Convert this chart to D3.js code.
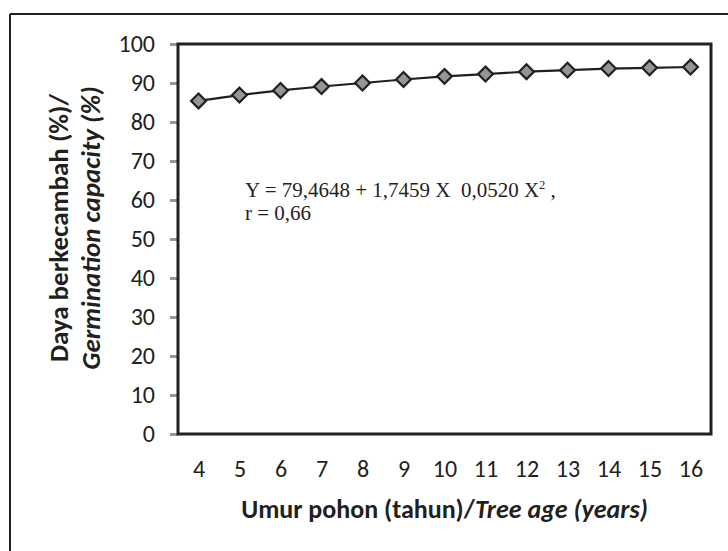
<!DOCTYPE html>
<html>
<head>
<meta charset="utf-8">
<script src="https://cdn.jsdelivr.net/npm/d3@7"></script>
<style>
  body { margin: 0; background: #fff; }
  svg { display: block; }
</style>
</head>
<body>
<svg id="chart" width="728" height="551"></svg>
<script>
// tree age (years) and germination capacity (%)
var years = [4, 5, 6, 7, 8, 9, 10, 11, 12, 13, 14, 15, 16];
var germination = [85.4, 86.9, 88.1, 89.1, 90.0, 90.9, 91.7, 92.3, 92.9, 93.3, 93.7, 93.9, 94.1];
var yTicks = [0, 10, 20, 30, 40, 50, 60, 70, 80, 90, 100];

var svg = d3.select("#chart");
var sansFont = "Carlito, Lato, 'Open Sans', sans-serif";
var serifFont = "'Liberation Serif', 'Times New Roman', serif";
var ink = "#231f20";

var margin = { top: 44, right: 17, bottom: 117, left: 178 };
var innerWidth = 728 - margin.left - margin.right;
var innerHeight = 551 - margin.top - margin.bottom;

// outer frame (only its top and left edges fall inside the picture)
svg.append("line")
   .attr("x1", 10).attr("y1", 14)
   .attr("x2", 728).attr("y2", 14)
   .attr("stroke", ink)
   .attr("stroke-width", 2);
svg.append("line")
   .attr("x1", 10).attr("y1", 14)
   .attr("x2", 10).attr("y2", 551)
   .attr("stroke", ink)
   .attr("stroke-width", 2);

var g = svg.append("g")
           .attr("transform", "translate(" + margin.left + "," + margin.top + ")");

var xScale = d3.scalePoint()
               .domain(years)
               .range([0, innerWidth])
               .padding(0.5);

var yScale = d3.scaleLinear()
               .domain([0, 100])
               .range([innerHeight, 0]);

// Y-axis: grey tick marks outside the box
var yAxis = g.append("g")
             .attr("class", "y-axis")
             .call(d3.axisLeft(yScale).tickValues(yTicks).tickSize(8).tickPadding(15));
yAxis.select(".domain").remove();
yAxis.selectAll(".tick line")
     .attr("stroke", "#939598")
     .attr("stroke-width", 3);
yAxis.selectAll(".tick text")
     .style("font", "24px " + sansFont)
     .attr("fill", ink);

// X-axis: labels only
var xAxis = g.append("g")
             .attr("class", "x-axis")
             .attr("transform", "translate(0," + innerHeight + ")")
             .call(d3.axisBottom(xScale).tickSize(0).tickPadding(26));
xAxis.select(".domain").remove();
xAxis.selectAll(".tick text")
     .style("font", "24px " + sansFont)
     .attr("fill", ink);

// plot box
g.append("rect")
 .attr("width", innerWidth)
 .attr("height", innerHeight)
 .attr("fill", "none")
 .attr("stroke", ink)
 .attr("stroke-width", 3);

// line
g.append("path")
 .datum(germination)
 .attr("fill", "none")
 .attr("stroke", ink)
 .attr("stroke-width", 2.2)
 .attr("d", d3.line()
              .x(function(d, i) { return xScale(years[i]); })
              .y(function(d) { return yScale(d); }));

// diamond markers
g.selectAll(".marker")
 .data(germination)
 .enter()
 .append("path")
 .attr("class", "marker")
 .attr("transform", function(d, i) { return "translate(" + xScale(years[i]) + "," + yScale(d) + ")"; })
 .attr("d", d3.symbol().type(d3.symbolDiamond2).size(140))
 .attr("fill", "#939598")
 .attr("stroke", ink)
 .attr("stroke-width", 2.2);

// regression equation (minus sign is missing in the original)
var eq = svg.append("text")
            .attr("x", 245)
            .attr("y", 197)
            .attr("xml:space", "preserve")
            .style("white-space", "pre")
            .style("font", "21px " + serifFont)
            .attr("fill", ink);
eq.append("tspan").text("Y = 79,4648 + 1,7459 X  0,0520 X");
eq.append("tspan").attr("dy", -8).style("font-size", "12px").text("2");
eq.append("tspan").attr("dy", 8).text(" ,");

svg.append("text")
   .attr("x", 245)
   .attr("y", 220)
   .style("font", "21px " + serifFont)
   .attr("fill", ink)
   .text("r = 0,66");

// x-axis title
var xTitle = svg.append("text")
                .attr("x", margin.left + innerWidth / 2)
                .attr("y", 518)
                .attr("text-anchor", "middle")
                .style("font", "bold 26px " + sansFont)
                .attr("fill", ink);
xTitle.append("tspan").text("Umur pohon (tahun)/");
xTitle.append("tspan").style("font-style", "italic").text("Tree age (years)");

// y-axis title, two lines
var yTitle = svg.append("g")
                .attr("transform", "translate(68,228) rotate(-90)");
yTitle.append("text")
      .attr("text-anchor", "middle")
      .style("font", "bold 27px " + sansFont)
      .attr("fill", ink)
      .text("Daya berkecambah (%)/");
yTitle.append("text")
      .attr("y", 32)
      .attr("text-anchor", "middle")
      .style("font", "italic bold 27px " + sansFont)
      .attr("fill", ink)
      .text("Germination capacity (%)");
</script>
</body>
</html>
